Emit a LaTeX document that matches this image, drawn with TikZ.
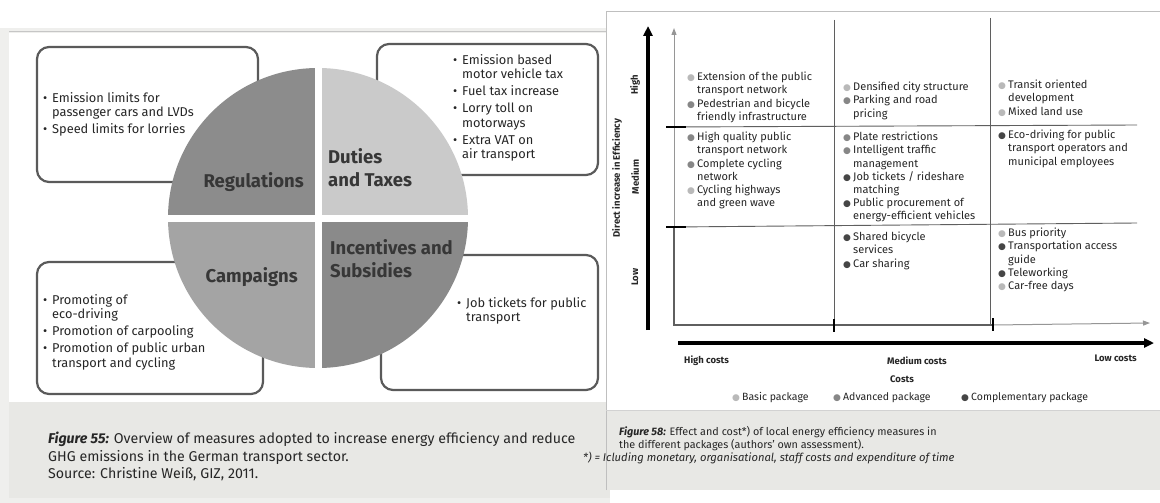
\documentclass[tikz,border=0pt]{standalone}
\usepackage{fontspec}
\setmainfont{Fira Sans}
\newfontfamily\dotfont{DejaVu Sans}
\usepackage{tikz}
\usetikzlibrary{arrows.meta,calc}
\definecolor{pagegray}{RGB}{232,232,229}
\definecolor{boxline}{RGB}{90,90,90}
\definecolor{textgray}{RGB}{38,38,38}
\definecolor{labelgray}{RGB}{55,55,55}
\definecolor{regulgray}{RGB}{140,140,140}
\definecolor{dutygray}{RGB}{202,202,202}
\definecolor{campgray}{RGB}{164,164,164}
\definecolor{incentgray}{RGB}{138,138,138}
\definecolor{gridgray}{RGB}{95,95,95}
\definecolor{axisgray}{RGB}{150,150,150}
\definecolor{basicdot}{RGB}{185,185,185}
\definecolor{advdot}{RGB}{135,135,135}
\definecolor{compdot}{RGB}{70,70,70}

% bullets for the boxes and the package dots
\newcommand{\bitem}{\makebox[9pt][l]{•}}
\newcommand{\bcont}{\hspace*{9pt}}
\newcommand{\pkg}[1]{\makebox[10pt][l]{\textcolor{#1}{\dotfont\fontsize{9}{9}\selectfont ●}}}
\newcommand{\pcont}{\hspace*{10pt}}

\begin{document}
\begin{tikzpicture}[x=1pt,y=-1pt,
    infobox/.style={draw=boxline,line width=2.2pt,rounded corners=12pt,fill=white},
    boxtext/.style={anchor=north west,inner sep=0pt,align=left,text=textgray,font=\fontsize{12.8}{14.5}\selectfont},
    slicelabel/.style={inner sep=0pt,align=left,text=labelgray,font=\fontsize{18.5}{23.5}\selectfont\bfseries},
    celltext/.style={anchor=north west,inner sep=0pt,align=left,text=textgray,font=\fontsize{11}{13.2}\selectfont},
    axislabel/.style={inner sep=0pt,text=textgray,font=\fontsize{9.5}{11}\selectfont\bfseries},
    gridline/.style={draw=gridgray,line width=0.9pt},
    bigaxis/.style={draw=black,line width=3.4pt,-{Triangle[length=10pt,width=9pt]}},
    tickmark/.style={line width=2.2pt}]

    \useasboundingbox (0,0) rectangle (1160,503);

    % ---- left page: overview of measures ----
    \fill[pagegray!70] (0,28) rectangle (610,503);
    \fill[white] (9,33) rectangle (610,402);
    \fill[pagegray] (9,402) rectangle (610,498);
    \draw[gray!45,line width=0.8pt] (9,31) -- (610,31);

    % boxes around the pie
    \draw[infobox] (37,47) rectangle (258,182);
    \draw[infobox] (377,44) rectangle (598,175);
    \draw[infobox] (37,262) rectangle (263,394);
    \draw[infobox] (381,255) rectangle (598,390);

    % pie in four quarters
    \coordinate (pie) at (318,218);
    \begin{scope}
        \clip (pie) circle[radius=150pt];
        \fill[regulgray] ($(pie)+(-160,-160)$) rectangle ($(pie)+(-3.5,-3.5)$);
        \fill[dutygray] ($(pie)+(3.5,-160)$) rectangle ($(pie)+(160,-3.5)$);
        \fill[campgray] ($(pie)+(-160,3.5)$) rectangle ($(pie)+(-3.5,160)$);
        \fill[incentgray] ($(pie)+(3.5,3.5)$) rectangle ($(pie)+(160,160)$);
    \end{scope}

    \node[slicelabel,anchor=east] (reglabel) at (304,182) {Regulations};
    \node[slicelabel,anchor=north west] (dutylabel) at (328,148) {Duties\\and Taxes};
    \node[slicelabel,anchor=north west] (incentlabel) at (330,239) {Incentives and\\Subsidies};
    \node[slicelabel,anchor=east] (camplabel) at (298,277) {Campaigns};

    % measures
    \node[boxtext] (regtext) at (43,92) {\bitem Emission limits for\\\bcont passenger cars and LVDs\\[2.5pt]\bitem Speed limits for lorries};
    \node[boxtext] (dutytext) at (453,54) {\bitem Emission based\\\bcont motor vehicle tax\\[2.5pt]\bitem Fuel tax increase\\[2.5pt]\bitem Lorry toll on\\\bcont motorways\\[2.5pt]\bitem Extra VAT on\\\bcont air transport};
    \node[boxtext] (camptext) at (43,294) {\bitem Promoting of\\\bcont eco-driving\\[2.5pt]\bitem Promotion of carpooling\\[2.5pt]\bitem Promotion of public urban\\\bcont transport and cycling};
    \node[boxtext] (incenttext) at (457,297) {\bitem Job tickets for public\\\bcont transport};

    \node[anchor=north west,inner sep=0pt,align=left,text=textgray,font=\fontsize{14.2}{17.5}\selectfont] (capleft) at (48,432)
        {\textbf{\textit{Figure 55:}} Overview of measures adopted to increase energy efficiency and reduce\\GHG emissions in the German transport sector.\\Source: Christine Weiß, GIZ, 2011.};

    % ---- right page: effect and cost ----
    \fill[white] (606,11) rectangle (1160,410);
    \fill[pagegray] (606,410) rectangle (1160,490);
    \draw[gray!50,line width=0.8pt] (606,490) -- (606,11) -- (1160,11);
    \draw[gray!35,line width=0.8pt] (606,410) -- (1160,410);

    % efficiency axis
    \coordinate (effbot) at (648,330);
    \coordinate (efftop) at (648,26);
    \draw[bigaxis] (effbot) -- (efftop);
    \node[axislabel,rotate=90] (lbleff) at (617,178) {Direct increase in Efficiency};
    \node[axislabel,rotate=90] (lblhigh) at (635,85) {High};
    \node[axislabel,rotate=90] (lblmed) at (635,177) {Medium};
    \node[axislabel,rotate=90] (lbllow) at (635,277) {Low};

    % cost axis
    \coordinate (costaxisstart) at (678,343);
    \coordinate (costaxisend) at (1154,343);
    \draw[bigaxis] (costaxisstart) -- (costaxisend);
    \node[axislabel,anchor=west] (lblhighc) at (684,361) {High costs};
    \node[axislabel] (lblmedc) at (917,361) {Medium costs};
    \node[axislabel,anchor=east] (lbllowc) at (1137,358) {Low costs};
    \node[axislabel] (lblcosts) at (902,379) {Costs};

    % grid of the nine fields
    \coordinate (corner) at (674,325);
    \coordinate (ytop) at (674,28);
    \coordinate (ymid) at (674,227);
    \coordinate (xmid) at (993,325);
    \coordinate (xend) at (1150,323);
    \draw[gridline] (834,20) -- (834,325);
    \draw[gridline] (990,18) -- (990,325);
    \draw[gridline] (674,127) -- (1137,125);
    \draw[gridline] (674,227) -- (1137,223);
    \draw[axisgray,line width=1pt,-{Triangle[length=7pt,width=5pt]}] (ymid) -- (ytop);
    \draw[gridgray,line width=1.5pt] (ymid) -- (corner) -- (xmid);
    \draw[axisgray,line width=1pt,-{Triangle[length=7pt,width=5pt]}] (xmid) -- (xend);
    \draw[tickmark] (666,127) -- (686,127);
    \draw[tickmark] (666,227) -- (686,227);
    \draw[tickmark] (834,319) -- (834,332);
    \draw[tickmark] (993,318) -- (993,331);

    % measures per field
    \node[celltext] (c11) at (687,72) {\pkg{basicdot}Extension of the public\\\pcont transport network\\\pkg{advdot}Pedestrian and bicycle\\\pcont friendly infrastructure};
    \node[celltext] (c21) at (687,132) {\pkg{advdot}High quality public\\\pcont transport network\\\pkg{advdot}Complete cycling\\\pcont network\\\pkg{basicdot}Cycling highways\\\pcont and green wave};
    \node[celltext] (c12) at (843,82) {\pkg{basicdot}Densified city structure\\\pkg{advdot}Parking and road\\\pcont pricing};
    \node[celltext] (c22) at (843,132) {\pkg{advdot}Plate restrictions\\\pkg{advdot}Intelligent traffic\\\pcont management\\\pkg{compdot}Job tickets / rideshare\\\pcont matching\\\pkg{compdot}Public procurement of\\\pcont energy-efficient vehicles};
    \node[celltext] (c32) at (843,232) {\pkg{compdot}Shared bicycle\\\pcont services\\\pkg{compdot}Car sharing};
    \node[celltext] (c13) at (998,80) {\pkg{basicdot}Transit oriented\\\pcont development\\\pkg{basicdot}Mixed land use};
    \node[celltext] (c23) at (998,130) {\pkg{compdot}Eco-driving for public\\\pcont transport operators and\\\pcont municipal employees};
    \node[celltext] (c33) at (998,228) {\pkg{basicdot}Bus priority\\\pkg{compdot}Transportation access\\\pcont guide\\\pkg{compdot}Teleworking\\\pkg{basicdot}Car-free days};

    % legend
    \node[celltext,anchor=west,font=\fontsize{10.5}{12}\selectfont] (legbasic) at (732,398) {\pkg{basicdot}Basic package};
    \node[celltext,anchor=west,font=\fontsize{10.5}{12}\selectfont] (legadv) at (833,398) {\pkg{advdot}Advanced package};
    \node[celltext,anchor=west,font=\fontsize{10.5}{12}\selectfont] (legcomp) at (961,398) {\pkg{compdot}Complementary package};

    \node[anchor=north west,inner sep=0pt,align=left,text=textgray,font=\fontsize{10.8}{13}\selectfont] (capright) at (619,426)
        {\textbf{\textit{Figure 58:}} Effect and cost*) of local energy efficiency measures in\\the different packages (authors' own assessment).};
    \node[anchor=north west,inner sep=0pt,text=textgray,font=\fontsize{11.2}{13}\selectfont\itshape] (capnote) at (583,452)
        {*) = Icluding monetary, organisational, staff costs and expenditure of time};

\end{tikzpicture}
\end{document}
